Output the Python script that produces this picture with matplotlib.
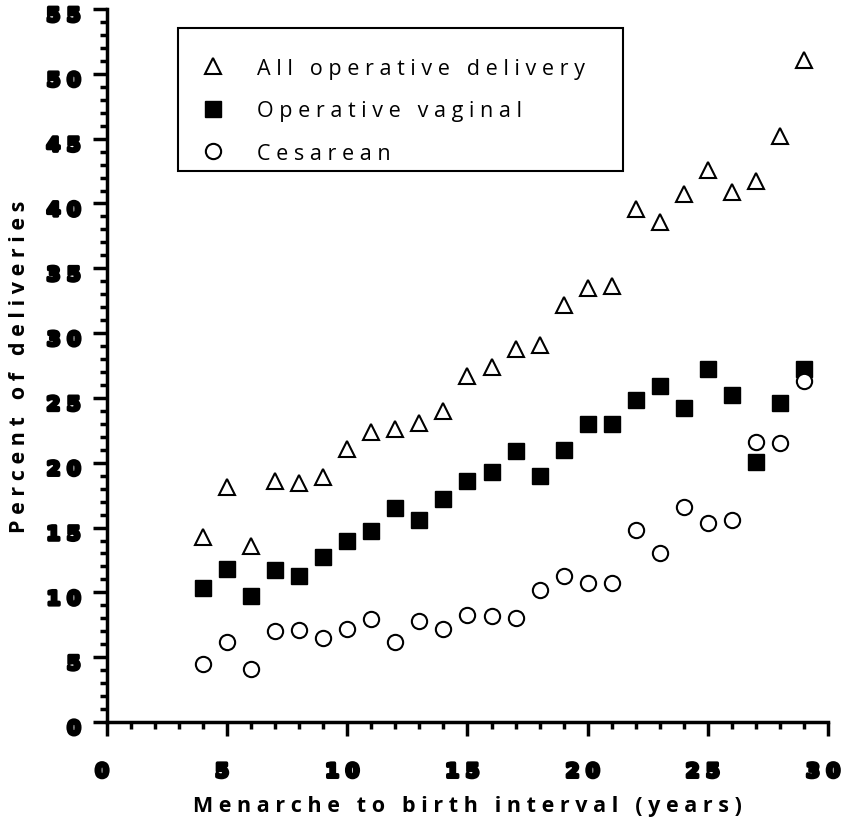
import matplotlib
matplotlib.use("Agg")
import matplotlib.pyplot as plt
import matplotlib.patheffects as pe
import matplotlib.transforms as mtransforms
from matplotlib.patches import Rectangle
from matplotlib.ticker import MultipleLocator

# interval in years
years = list(range(4, 30))

all_operative = [14.3, 18.1, 13.6, 18.6, 18.4, 18.9, 21.05, 22.4, 22.6, 23.05, 24.0,
                 26.7, 27.35, 28.8, 29.1, 32.2, 33.5, 33.6, 39.6, 38.6, 40.7, 42.6,
                 40.9, 41.7, 45.2, 51.05]
operative_vaginal = [10.3, 11.8, 9.7, 11.7, 11.3, 12.7, 14.0, 14.7, 16.5, 15.6, 17.2,
                     18.6, 19.25, 20.9, 18.95, 21.0, 23.0, 23.0, 24.85, 25.9, 24.25,
                     27.2, 25.2, 20.05, 24.6, 27.2]
cesarean = [4.5, 6.2, 4.1, 7.0, 7.1, 6.45, 7.15, 7.95, 6.2, 7.8, 7.15, 8.25, 8.2,
            8.0, 10.2, 11.3, 10.7, 10.75, 14.8, 13.0, 16.55, 15.35, 15.6, 21.6,
            21.55, 26.3]

labels = ["All operative delivery", "Operative vaginal", "Cesarean"]
xticks = [0, 5, 10, 15, 20, 25, 30]
yticks = [0, 5, 10, 15, 20, 25, 30, 35, 40, 45, 50, 55]


def spaced(s):
    # letter spaced text like the original
    return " ".join(s)


fig = plt.figure(figsize=(8.45, 8.28), dpi=100)
ax = fig.add_axes([0.1266, 0.1268, 0.8533, 0.8611])

ax.plot(years, all_operative, linestyle="none", marker="^", markersize=12,
        markerfacecolor="white", markeredgecolor="black", markeredgewidth=1.5,
        label=spaced(labels[0]))
ax.plot(years, operative_vaginal, linestyle="none", marker="s", markersize=11,
        markerfacecolor="black", markeredgecolor="black",
        label=spaced(labels[1]))
ax.plot(years, cesarean, linestyle="none", marker="o", markersize=11,
        markerfacecolor="white", markeredgecolor="black", markeredgewidth=1.5,
        label=spaced(labels[2]))

ax.set_xlim(0, 30)
ax.set_ylim(0, 55)
ax.xaxis.set_minor_locator(MultipleLocator(1))
ax.yaxis.set_minor_locator(MultipleLocator(1))

for s in ["top", "right"]:
    ax.spines[s].set_visible(False)
for s in ["left", "bottom"]:
    ax.spines[s].set_linewidth(2.5)

ax.tick_params(which="major", direction="out", length=10, width=2.5)
ax.tick_params(which="minor", direction="out", length=5, width=2.5)
ax.tick_params(axis="x", pad=19)
ax.tick_params(axis="y", pad=9)

tick_font = dict(family="DejaVu Sans", weight="bold", size=14)
heavy = [pe.withStroke(linewidth=2.5, foreground="black")]
ax.set_xticks(xticks)
ax.set_xticklabels([" ".join(str(v)) for v in xticks], **tick_font)
ax.set_yticks(yticks)
ax.set_yticklabels([" ".join(str(v)) for v in yticks], **tick_font)

# the original labels sit a little left of / below their ticks
shift_x = mtransforms.ScaledTranslation(-5 / 100, 0, fig.dpi_scale_trans)
shift_y = mtransforms.ScaledTranslation(0, -5 / 100, fig.dpi_scale_trans)
for lab in ax.get_xticklabels():
    lab.set_path_effects(heavy)
    lab.set_transform(lab.get_transform() + shift_x)
for lab in ax.get_yticklabels():
    lab.set_path_effects(heavy)
    lab.set_transform(lab.get_transform() + shift_y)

ax.set_xlabel(spaced("Menarche to birth interval (years)"), fontfamily="Open Sans",
              fontweight="bold", fontsize=15.5, labelpad=10)
ax.set_ylabel(spaced("Percent of deliveries"), fontfamily="Open Sans",
              fontweight="bold", fontsize=15.5, labelpad=12)

# legend box
ax.add_patch(Rectangle((0.0985, 0.7728), 0.6172, 0.2006, transform=ax.transAxes,
                       fill=False, edgecolor="black", linewidth=1.5, zorder=5,
                       clip_on=False))
leg = ax.legend(loc="upper left", bbox_to_anchor=(0.2398, 0.929),
                bbox_transform=fig.transFigure, frameon=False, borderpad=0,
                borderaxespad=0, labelspacing=1.0, handletextpad=1.52,
                handlelength=1.0, prop=dict(family="Open Sans", size=15.5))
for h in leg.legend_handles:
    h.set_markersize(11)

fig.savefig("out.png", dpi=100)
